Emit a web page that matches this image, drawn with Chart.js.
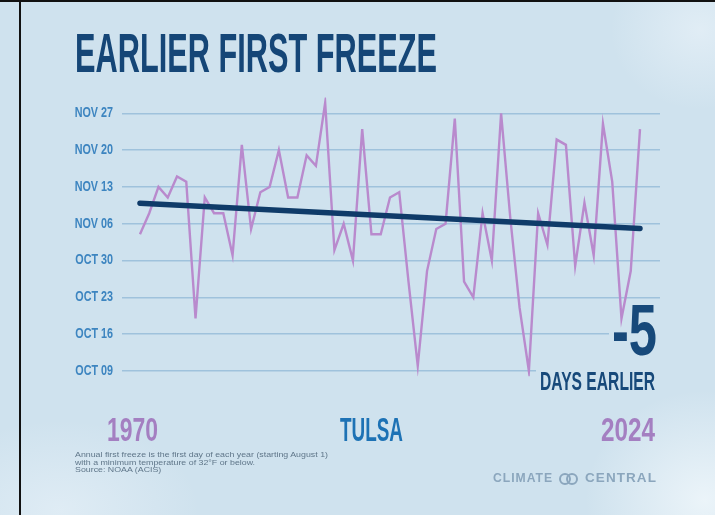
<!DOCTYPE html>
<html><head><meta charset="utf-8">
<script src="https://cdn.jsdelivr.net/npm/chart.js@4"></script>
<style>
html,body{margin:0;padding:0;width:715px;height:515px;overflow:hidden;background:#cfe2ee;}
#bg{position:absolute;left:0;top:0;width:715px;height:515px;
 background:
  radial-gradient(ellipse 120px 110px at 705px 500px, rgba(240,247,251,0.85), rgba(240,247,251,0) 100%),
  radial-gradient(ellipse 90px 80px at 700px 30px, rgba(236,244,250,0.6), rgba(236,244,250,0) 100%),
  radial-gradient(ellipse 140px 90px at 60px 510px, rgba(236,244,250,0.55), rgba(236,244,250,0) 100%),
  #cfe2ee;}
#frameTop{position:absolute;left:0;top:0;width:715px;height:2px;background:#111;}
#frameLeft{position:absolute;left:19px;top:0;width:2px;height:515px;background:#111;}
canvas{position:absolute;left:0;top:0;}
.t{position:absolute;white-space:nowrap;transform-origin:0 0;font-family:"Liberation Sans",sans-serif;font-weight:bold;}
.f{position:absolute;white-space:nowrap;transform-origin:0 0;font-family:"Liberation Sans",sans-serif;font-weight:normal;color:#5f7689;}
.ring{position:absolute;width:8px;height:8px;border:2.5px solid #8ba6bd;border-radius:50%;}
</style></head><body>
<div id="bg"></div>
<canvas id="c" width="715" height="515"></canvas>
<div id="frameTop"></div><div id="frameLeft"></div>
<div class="t" id="title" style="color:#154677">EARLIER FIRST FREEZE</div>
<div class="t" id="yStart" style="color:#a47fc1">1970</div>
<div class="t" id="city" style="color:#1d72b5">TULSA</div>
<div class="t" id="yEnd" style="color:#a47fc1">2024</div>
<div class="t" id="big" style="color:#17497a">-5</div>
<div class="t" id="sub" style="color:#17497a">DAYS EARLIER</div>
<div class="f" id="f1">Annual first freeze is the first day of each year (starting August 1)</div>
<div class="f" id="f2">with a minimum temperature of 32°F or below.</div>
<div class="f" id="f3">Source: NOAA (ACIS)</div>
<div class="t" id="lg1" style="color:#8ba6bd;letter-spacing:1px">CLIMATE</div>
<div class="ring" style="left:559px;top:473px;"></div>
<div class="ring" style="left:566px;top:473px;"></div>
<div class="t" id="lg2" style="color:#8ba6bd;letter-spacing:1px">CENTRAL</div>
<script>
// ---- data (first freeze as day of year; Oct 09 = 282) ----
const years = [1970,1971,1972,1973,1974,1975,1976,1977,1978,1979,
               1980,1981,1982,1983,1984,1985,1986,1987,1988,1989,
               1990,1991,1992,1993,1994,1995,1996,1997,1998,1999,
               2000,2001,2002,2003,2004,2005,2006,2007,2008,2009,
               2010,2011,2012,2013,2014,2015,2016,2017,2018,2019,
               2020,2021,2022,2023,2024];
const firstFreezeDay = [308,312,317,315,319,318,292,315,312,312,
                        304,325,309,316,317,324,315,315,323,321,
                        333,305,310,303,328,308,308,315,316,299,
                        283,301,309,310,330,299,296,312,303,331,
                        311,294,282,312,306,326,325,302,314,304,
                        329,318,292,301,328];
const trendYears = [1970, 2024];
const trendDay = [313.9, 309.1];
const tickDays = [282,289,296,303,310,317,324,331];
const tickLabels = ["OCT 09","OCT 16","OCT 23","OCT 30","NOV 06","NOV 13","NOV 20","NOV 27"];

const BG = '#cfe2ee';
const LABEL_SQUEEZE = 0.77;
const maskPlugin = {
  id:'mask',
  beforeDraw(chart){
    const ys = chart.scales.y;
    if (!ys._squeezed) {
      const orig = ys.drawLabels.bind(ys);
      ys.drawLabels = function(area){
        const ctx = this.ctx, ax = this.right - 9;
        ctx.save();
        ctx.translate(ax,0); ctx.scale(LABEL_SQUEEZE,1); ctx.translate(-ax,0);
        orig(area);
        ctx.restore();
      };
      ys._squeezed = true;
    }
  },
  beforeDatasetsDraw(chart){
    const c = chart.ctx; c.save(); c.fillStyle = BG;
    c.fillRect(609,301,53,58);
    c.fillRect(536,366,126,30);
    c.restore();
  }
};

new Chart(document.getElementById('c'), {
  type:'line',
  data:{
    datasets:[
      {data: trendYears.map((y,i)=>({x:y,y:trendDay[i]})), borderColor:'#0f3b69', borderWidth:5.5,
       borderCapStyle:'round', pointRadius:0, order:0},
      {data: years.map((y,i)=>({x:y,y:firstFreezeDay[i]})), borderColor:'#b98acd', borderWidth:2.4,
       pointRadius:0, tension:0, borderJoinStyle:'miter', order:1}
    ]
  },
  options:{
    responsive:false, devicePixelRatio:1, animation:false,
    layout:{padding:{left:0,right:55,top:97.5,bottom:138.7}},
    plugins:{legend:{display:false},tooltip:{enabled:false},title:{display:false}},
    scales:{
      x:{type:'linear',min:1968.06,max:2026.16,display:false},
      y:{type:'linear',min:281,max:334,
         afterBuildTicks:(s)=>{s.ticks = tickDays.map(v=>({value:v}));},
         afterFit:(s)=>{s.width = 122;},
         border:{display:false},
         grid:{color:'#9fc2dc',lineWidth:1.5,drawTicks:false},
         ticks:{padding:9,color:'#3d85c0',
                font:{family:'"Liberation Sans", sans-serif',weight:'bold',size:14},
                callback:(v)=>tickLabels[tickDays.indexOf(v)]}
      }
    }
  },
  plugins:[maskPlugin]
});

function place(id, o){
  const el = document.getElementById(id);
  const fs = o.capH/0.716;
  el.style.fontSize = fs+'px';
  el.style.lineHeight = fs+'px';
  el.style.top = (o.capTop - 0.1305*fs)+'px';
  el.style.left = '0px';
  const w = el.getBoundingClientRect().width;
  const s = o.width / w;
  el.style.transform = 'scaleX('+s+')';
  el.style.left = (o.right!==undefined ? o.right - o.width : o.left)+'px';
  return s;
}
place('title',{left:75,capTop:32,capH:40,width:362});
place('yStart',{left:107,capTop:417,capH:24,width:51});
place('city',{left:340,capTop:417,capH:24,width:63});
place('yEnd',{left:601,capTop:417,capH:24,width:54});
place('big',{right:657,capTop:303,capH:52,width:45});
place('sub',{left:540,capTop:371,capH:19,width:115});
const fs = place('f1',{left:75,capTop:452,capH:5.4,width:253});
['f2','f3'].forEach((id,i)=>{
  const el=document.getElementById(id); const size=5.4/0.716;
  el.style.fontSize=size+'px'; el.style.lineHeight=size+'px';
  el.style.top=(452+7.6*(i+1)-0.1305*size)+'px'; el.style.left='75px';
  el.style.transform='scaleX('+fs+')';
});
place('lg1',{left:493,capTop:474,capH:9,width:60});
place('lg2',{left:585,capTop:474,capH:9,width:72});
</script>
</body></html>
